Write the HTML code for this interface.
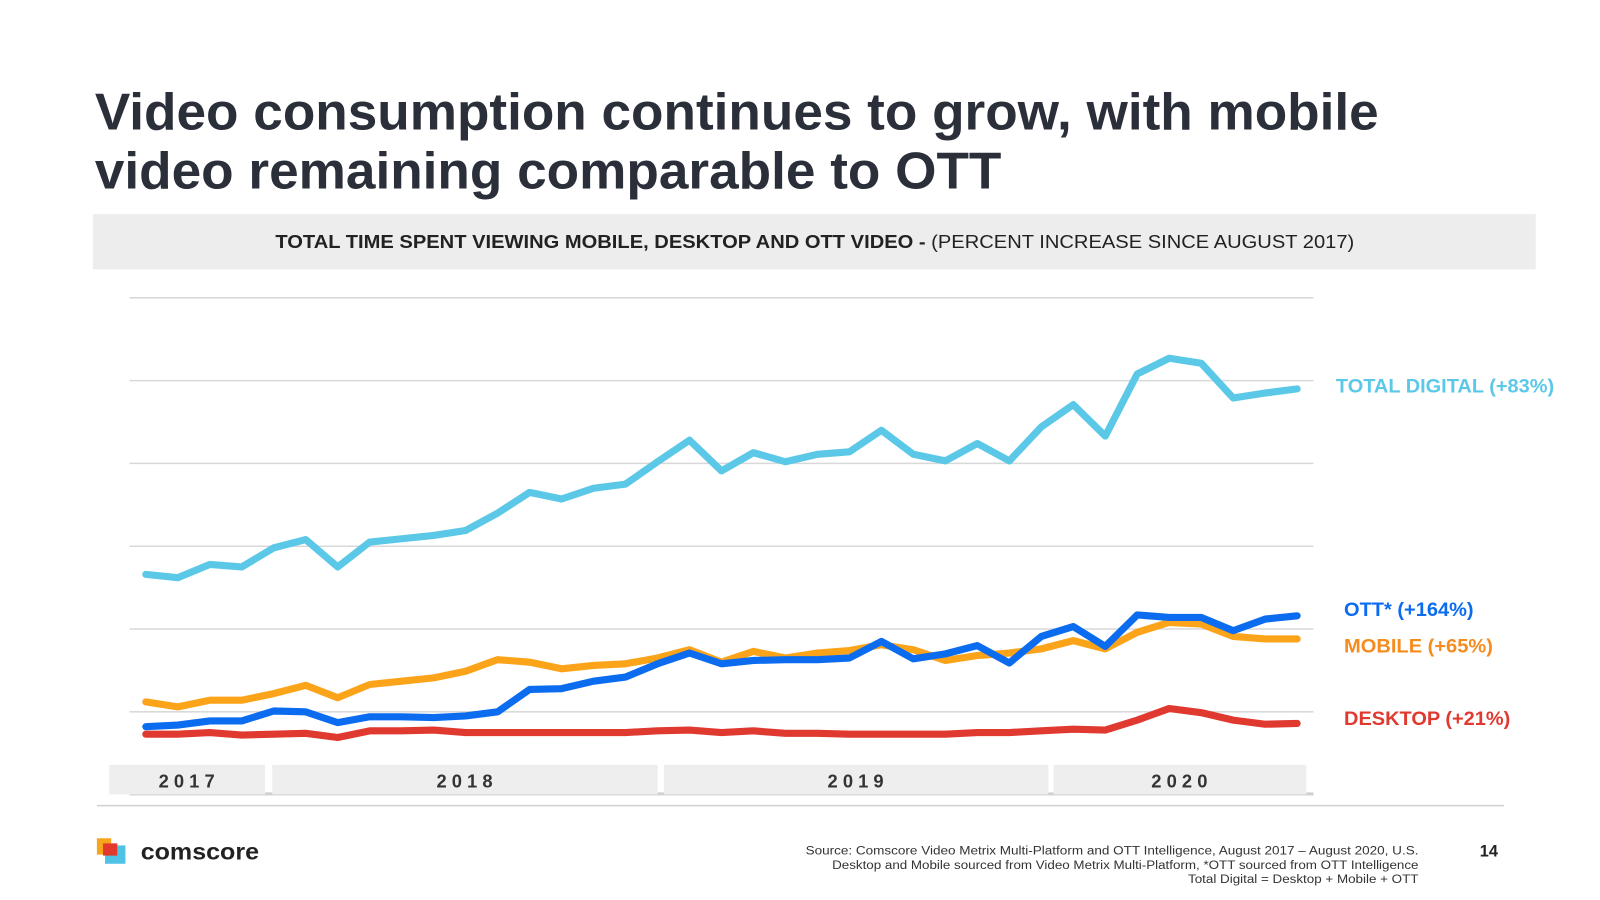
<!DOCTYPE html>
<html><head><meta charset="utf-8"><style>
html,body{margin:0;padding:0;background:#fff;width:1600px;height:900px;overflow:hidden}
svg{display:block;font-family:"Liberation Sans",Arial,sans-serif}
</style></head><body>
<svg id="chart" width="1600" height="900" viewBox="0 0 1569 882.5">
<text x="93" y="127" font-size="51" font-weight="bold" fill="#2a2f3a" textLength="1259" lengthAdjust="spacingAndGlyphs">Video consumption continues to grow, with mobile</text>
<text x="93" y="185" font-size="51" font-weight="bold" fill="#2a2f3a" textLength="889" lengthAdjust="spacingAndGlyphs">video remaining comparable to OTT</text>
<rect x="91" y="210" width="1415" height="54" fill="#ededed"/>
<text x="270" y="243" font-size="18" fill="#222" textLength="1058" lengthAdjust="spacingAndGlyphs"><tspan font-weight="bold">TOTAL TIME SPENT VIEWING MOBILE, DESKTOP AND OTT VIDEO - </tspan> (PERCENT INCREASE SINCE AUGUST 2017)</text>
<g id="grid"></g>
<g id="years"></g>
<g id="lines"></g>
<g id="labels"></g>
<line x1="95" y1="790" x2="1475" y2="790" stroke="#d0d0d0" stroke-width="1.5"/>
<g>
<rect x="95" y="822" width="14" height="16" fill="#f7a51c"/>
<rect x="103" y="829" width="20" height="18" fill="#4fc3e6"/>
<rect x="101" y="827" width="14" height="12" fill="#e3392c"/>
<text x="138" y="843" font-size="23" font-weight="bold" fill="#222" textLength="116" lengthAdjust="spacingAndGlyphs">comscore</text>
</g>
<g font-size="12" fill="#333">
<text x="790" y="838" textLength="601" lengthAdjust="spacingAndGlyphs">Source:  Comscore Video Metrix Multi-Platform and OTT Intelligence, August 2017 – August 2020, U.S.</text>
<text x="816" y="852" textLength="575" lengthAdjust="spacingAndGlyphs">Desktop and Mobile sourced from Video Metrix Multi-Platform, *OTT sourced from OTT Intelligence</text>
<text x="1165" y="866" textLength="226" lengthAdjust="spacingAndGlyphs">Total Digital = Desktop + Mobile + OTT</text>
</g>
<text x="1460" y="840" font-size="16" font-weight="bold" fill="#222" text-anchor="middle">14</text>
</svg>
<script>
const months = 37;
const gridTicks = [-100, 0, 100, 200, 300, 400, 500];
const years = ["2017","2018","2019","2020"];
const totalDigital = [166,162,178,175,198,208,175,205,209,213,219,240,265,257,270,275,302,328,291,313,302,311,314,340,311,303,324,303,344,371,333,408,427,421,379,385,390];
const mobile = [12,6,14,14,22,32,17,33,37,41,49,63,60,52,56,58,65,75,60,73,65,71,74,81,75,62,68,71,76,86,76,96,108,106,91,88,88];
const ott = [-18,-16,-11,-11,1,0,-13,-6,-6,-7,-5,0,27,28,37,42,58,71,58,62,63,63,65,85,64,70,80,59,91,103,79,117,114,114,98,112,116];
const desktop = [-27,-27,-25,-28,-27,-26,-31,-23,-23,-22,-25,-25,-25,-25,-25,-25,-23,-22,-25,-23,-26,-26,-27,-27,-27,-27,-25,-25,-23,-21,-22,-10,4,-1,-10,-15,-14];
const seriesNames = ["TOTAL DIGITAL (+83%)","MOBILE (+65%)","OTT* (+164%)","DESKTOP (+21%)"];

const NS = "http://www.w3.org/2000/svg";
const X0 = 143, X1 = 1272;
const x = i => X0 + (X1 - X0) * i / (months - 1);
const y = v => 698 - v * 0.812;
function mk(tag, attrs, parent){const e=document.createElementNS(NS,tag);for(const k in attrs)e.setAttribute(k,attrs[k]);parent.appendChild(e);return e;}

const grid = document.getElementById('grid');
gridTicks.forEach(t=>{
  const yy=y(t); if(yy<290||yy>700) return;
  const l=mk('line',{x1:127,x2:1288,y1:yy,y2:yy,stroke:'#d9d9d9','stroke-width':1.5},grid);
  
  
});

const yg = document.getElementById('years');
const sh=mk('rect',{x:127,y:777,width:1161,height:3,fill:'#d0d0d0'},yg);


const bandL=[107,267,651,1033], bandR=[260,645,1028,1281];
years.forEach((yr,k)=>{
  const a=bandL[k], b=bandR[k];
  const r=mk('rect',{x:a,y:750,width:b-a,height:29,fill:'#eeeeee'},yg);
  
  
  const t=mk('text',{x:(a+b)/2+2,y:772,'text-anchor':'middle','font-size':18,'font-weight':'bold',fill:'#333','letter-spacing':'5'},yg);
  t.textContent=yr;
  
  
});

const lg = document.getElementById('lines');
const series=[[totalDigital,'#5bc8e8','line-total-digital'],[mobile,'#fba41a','line-mobile'],[ott,'#0b6cf0','line-ott'],[desktop,'#e0392f','line-desktop']];
series.forEach(([d,c,n])=>{
  const p=mk('polyline',{points:d.map((v,i)=>x(i)+','+y(v)).join(' '),fill:'none',stroke:c,'stroke-width':7,'stroke-linejoin':'round','stroke-linecap':'round'},lg);
  
  
});

const lb = document.getElementById('labels');
const labs=[[seriesNames[0],1310,385,'#5bc8e8','label-total-digital',214],[seriesNames[2],1318,604,'#0b6cf0','label-ott',127],[seriesNames[1],1318,640,'#f58c1f','label-mobile',146],[seriesNames[3],1318,711,'#e0392f','label-desktop',163]];
labs.forEach(([s,lx,ly,c,n,w])=>{
  const t=mk('text',{x:lx,y:ly,'font-size':19,'font-weight':'bold',fill:c,textLength:w,lengthAdjust:'spacingAndGlyphs'},lb);
  t.textContent=s;
  
  
});
</script>
</body></html>
